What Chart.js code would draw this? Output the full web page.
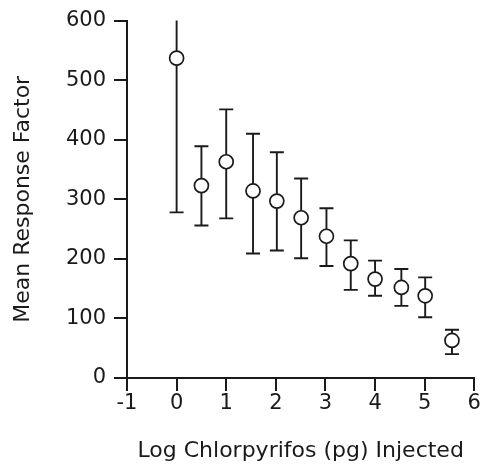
<!DOCTYPE html>
<html>
<head>
<meta charset="utf-8">
<script src="https://cdn.jsdelivr.net/npm/chart.js@4.4.1/dist/chart.umd.min.js"></script>
<style>
html,body{margin:0;padding:0;background:#fff;}
#wrap{width:483px;height:464px;position:relative;}
</style>
</head>
<body>
<div id="wrap"><canvas id="c" width="483" height="464"></canvas></div>
<script>
const logDose = [0, 0.5, 1, 1.54, 2.02, 2.51, 3.02, 3.51, 4.0, 4.53, 5.01, 5.55];
const meanResponse = [537, 323, 363, 314, 297, 269, 238, 192, 166, 152, 138, 63];
const upperBound = [797, 389, 451, 410, 379, 335, 285, 231, 197, 183, 169, 81];
const lowerBound = [278, 256, 268, 209, 214, 201, 188, 148, 138, 121, 102, 40];
const xTicks = [-1, 0, 1, 2, 3, 4, 5, 6];
const yTicks = [0, 100, 200, 300, 400, 500, 600];

const FONT = "'DejaVu Sans', sans-serif";
const INK = '#1a1a1a';

const errorBars = {
  id: 'errorBars',
  beforeDatasetsDraw(chart) {
    const {ctx, chartArea, scales: {x, y}} = chart;
    ctx.save();
    ctx.beginPath();
    ctx.rect(chartArea.left - 10, chartArea.top, chartArea.right - chartArea.left + 20, chartArea.bottom - chartArea.top);
    ctx.clip();
    ctx.strokeStyle = INK;
    ctx.lineWidth = 1.9;
    const cap = 7;
    logDose.forEach((d, i) => {
      const px = x.getPixelForValue(d);
      const pt = y.getPixelForValue(upperBound[i]);
      const pb = y.getPixelForValue(lowerBound[i]);
      ctx.beginPath();
      ctx.moveTo(px, pt); ctx.lineTo(px, pb);
      ctx.moveTo(px - cap, pt); ctx.lineTo(px + cap, pt);
      ctx.moveTo(px - cap, pb); ctx.lineTo(px + cap, pb);
      ctx.stroke();
    });
    ctx.restore();
  }
};

new Chart(document.getElementById('c'), {
  type: 'scatter',
  data: {
    datasets: [{
      data: logDose.map((d, i) => ({x: d, y: meanResponse[i]})),
      pointStyle: 'circle',
      pointRadius: 7,
      pointBackgroundColor: '#ffffff',
      pointBorderColor: INK,
      pointBorderWidth: 1.7,
      showLine: false
    }]
  },
  options: {
    responsive: false,
    animation: false,
    clip: false,
    layout: {padding: {top: 20, right: 6, left: 0, bottom: 0}},
    plugins: {legend: {display: false}, tooltip: {enabled: false}},
    scales: {
      x: {
        type: 'linear', min: -1, max: 6,
        afterBuildTicks: s => { s.ticks = xTicks.map(v => ({value: v})); },
        afterFit: s => { s.height = 86; },
        border: {display: true, color: INK, width: 2},
        grid: {drawOnChartArea: false, drawTicks: true, tickLength: 13, color: INK, lineWidth: 2},
        ticks: {color: INK, font: {family: FONT, size: 21}, padding: 0, maxRotation: 0},
        title: {display: true, text: 'Log Chlorpyrifos (pg) Injected', color: INK, font: {family: FONT, size: 22}, padding: {top: 0, bottom: 0}}
      },
      y: {
        type: 'linear', min: 0, max: 600,
        afterBuildTicks: s => { s.ticks = yTicks.map(v => ({value: v})); },
        afterFit: s => { s.width = 127; },
        border: {display: true, color: INK, width: 2},
        grid: {drawOnChartArea: false, drawTicks: true, tickLength: 13, color: INK, lineWidth: 2},
        ticks: {color: INK, font: {family: FONT, size: 21}, padding: 8},
        title: {display: true, text: 'Mean Response Factor', color: INK, font: {family: FONT, size: 22}, padding: {top: 10, bottom: 0}}
      }
    }
  },
  plugins: [errorBars]
});
</script>
</body>
</html>
